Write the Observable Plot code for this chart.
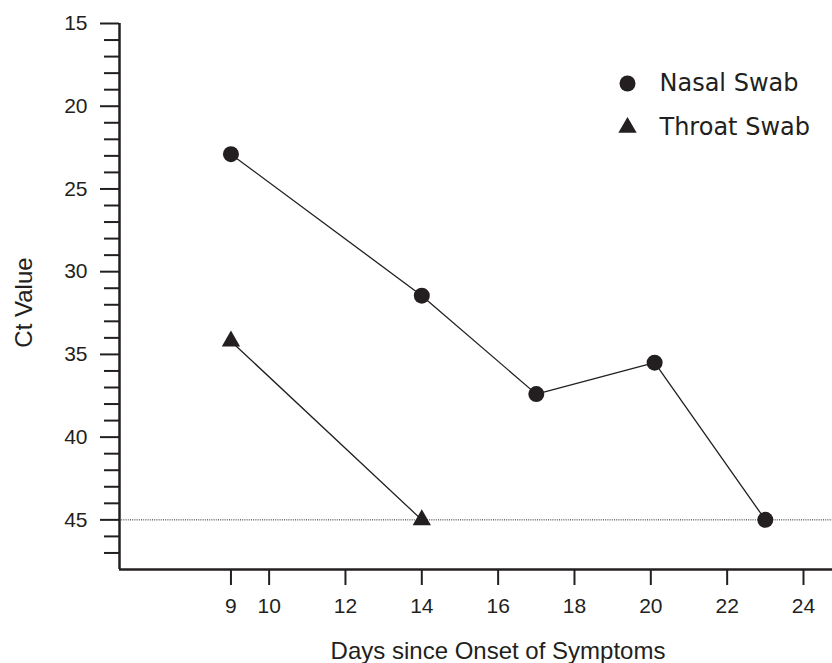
<!DOCTYPE html>
<html>
<head>
<meta charset="utf-8">
<script src="https://cdn.jsdelivr.net/npm/d3@7"></script>
<script src="https://cdn.jsdelivr.net/npm/@observablehq/plot@0.6"></script>
<style>
  html, body { margin: 0; padding: 0; background: #fff; }
  #chart svg { display: block; }
</style>
</head>
<body>
<div id="chart"></div>
<script>
// Data
const nasalDays = [9, 14, 17, 20.1, 23];
const nasalCt   = [22.9, 31.45, 37.4, 35.5, 45];
const throatDays = [9, 14];
const throatCt   = [34.2, 45];
const detectionLimit = 45;

const xTicks = [9, 10, 12, 14, 16, 18, 20, 22, 24];
const yMajorTicks = [15, 20, 25, 30, 35, 40, 45];
const yMinorTicks = [16, 17, 18, 19, 21, 22, 23, 24, 26, 27, 28, 29, 31, 32, 33, 34, 36, 37, 38, 39, 41, 42, 43, 44, 46, 47];

const legendLabels = ["Nasal Swab", "Throat Swab"];
const legendSymbols = ["circle", "triangle"];

const nasal = nasalDays.map((d, i) => ({day: d, ct: nasalCt[i]}));
const throat = throatDays.map((d, i) => ({day: d, ct: throatCt[i]}));

const ink = "#231f20";
const xDomain = [6.08, 24.76];
const yDomain = [15, 48];
const sans = "Liberation Sans, Arial, Helvetica, sans-serif";
const legendFont = "DejaVu Sans, Verdana, sans-serif";

const chart = Plot.plot({
  width: 832,
  height: 663,
  marginTop: 23,
  marginBottom: 94,
  marginLeft: 119,
  marginRight: 0,
  style: {fontFamily: sans, fontSize: "21px", color: ink, background: "#fff"},
  x: {domain: xDomain},
  y: {domain: yDomain, reverse: true},
  marks: [
    // detection limit
    Plot.ruleY([detectionLimit], {stroke: ink, strokeWidth: 1, strokeDasharray: "1,1.2"}),
    // axes
    Plot.axisY(yMinorTicks, {tickSize: 15, text: null, strokeWidth: 2, stroke: ink, label: null}),
    Plot.axisY(yMajorTicks, {tickSize: 19, tickPadding: 13, strokeWidth: 2, stroke: ink, fill: ink, fontSize: 21, label: null}),
    Plot.axisX(xTicks, {tickSize: 16, tickPadding: 13, strokeWidth: 2, stroke: ink, fill: ink, fontSize: 21, label: null}),
    Plot.ruleX([xDomain[0]], {stroke: ink, strokeWidth: 2.5}),
    Plot.ruleY([yDomain[1]], {stroke: ink, strokeWidth: 2.5}),
    // series
    Plot.line(nasal, {x: "day", y: "ct", stroke: ink, strokeWidth: 1.3}),
    Plot.line(throat, {x: "day", y: "ct", stroke: ink, strokeWidth: 1.3}),
    Plot.dot(nasal, {x: "day", y: "ct", r: 8, fill: ink, symbol: "circle"}),
    Plot.dot(throat, {x: "day", y: "ct", r: 6.8, fill: ink, symbol: "triangle"}),
    // axis titles
    Plot.text(["Ct Value"], {frameAnchor: "left", dx: -95, dy: 6, rotate: -90, lineAnchor: "middle", textAnchor: "middle", fontSize: 24, fill: ink}),
    Plot.text(["Days since Onset of Symptoms"], {frameAnchor: "bottom", dx: 22, dy: 82, lineAnchor: "middle", textAnchor: "middle", fontSize: 24, fill: ink}),
    // legend
    Plot.dot([legendLabels[0]], {frameAnchor: "top-left", dx: 508, dy: 60, r: 8, fill: ink, symbol: legendSymbols[0]}),
    Plot.dot([legendLabels[1]], {frameAnchor: "top-left", dx: 508, dy: 104, r: 6.8, fill: ink, symbol: legendSymbols[1]}),
    Plot.text([legendLabels[0]], {frameAnchor: "top-left", dx: 540, dy: 60, textAnchor: "start", lineAnchor: "middle", fontSize: 24, fill: ink, fontFamily: legendFont}),
    Plot.text([legendLabels[1]], {frameAnchor: "top-left", dx: 540, dy: 104, textAnchor: "start", lineAnchor: "middle", fontSize: 24, fill: ink, fontFamily: legendFont})
  ]
});

document.getElementById("chart").appendChild(chart);
</script>
</body>
</html>
